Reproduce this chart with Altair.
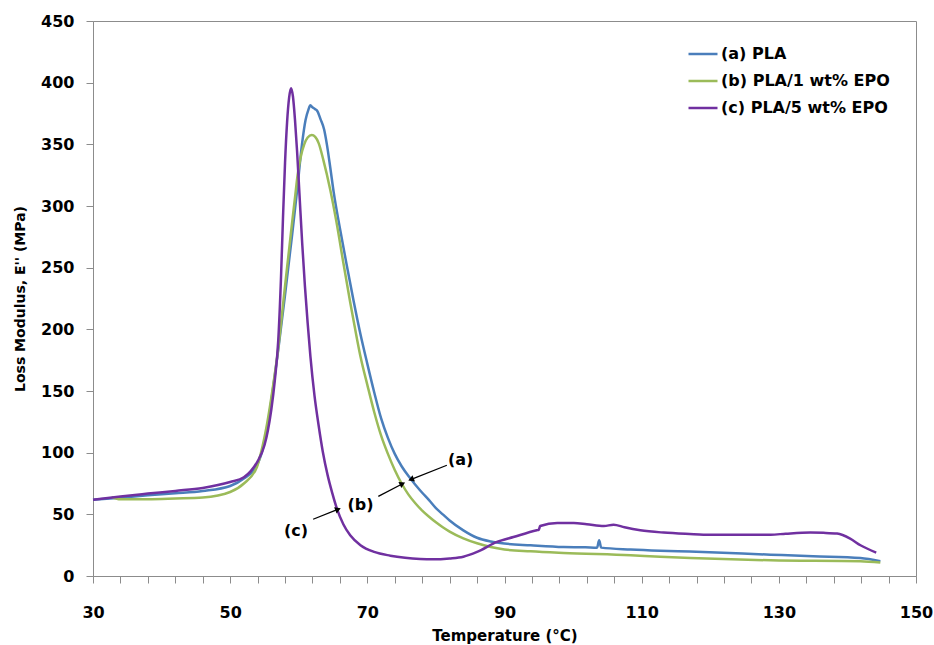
import altair as alt
import pandas as pd

# ---------------- data ----------------
series_names = ["(a) PLA", "(b) PLA/1 wt% EPO", "(c) PLA/5 wt% EPO"]
series_colors = ["#4A7EBB", "#9BBB59", "#7030A0"]

a_x = [30, 34, 38, 42, 46, 50, 52, 53.9, 54.5, 55.4, 56.2, 57.0, 58, 59, 59.75, 60.47, 61.0, 61.4, 61.7,
       62.0, 62.4, 62.7, 63.2, 63.7, 64.1, 64.6, 65.1, 66, 67, 68, 69, 70, 71, 72, 73, 74, 75, 76, 77,
       78, 79, 80, 81, 82, 84, 86, 88, 90, 93.8, 98.6, 101.8, 103.5, 103.8, 104.1, 108.4, 112.7, 117,
       128.8, 135, 141.9, 144.8]
a_y = [61.9, 63.5, 65.4, 67, 68.9, 73, 79, 89.8, 98, 120, 150, 183, 228, 275, 312, 350, 370, 378, 381.6,
       380, 378.5, 377, 370, 362, 350, 331, 311, 282, 252, 223, 196, 172, 149, 128, 112, 99, 89, 81, 74,
       67.5, 61.5, 55, 50, 45, 37, 31, 28, 26.3, 24.9, 23.5, 23.3, 23, 28.9, 23, 21.5, 20.5, 19.8,
       17.3, 16, 14.6, 11.9]

b_x = [32.7, 34, 38, 42, 46, 50, 52, 53.9, 54.5, 55.37, 56.2, 56.97, 58, 59, 59.5, 59.83, 60.3, 60.8,
       61.3, 61.9, 62.4, 62.9, 63.6, 64.6, 65.5, 66.5, 67.5, 68.5, 69, 70, 71, 72, 73, 74, 75, 76, 77,
       78, 79, 80, 81, 82, 84, 86, 88, 90, 93.8, 98.6, 108.4, 112.7, 117.1, 128.8, 141.9, 144.8]
b_y = [64, 62.2, 62.2, 62.8, 63.6, 68.1, 75, 88.4, 100, 123, 152, 183, 235, 285, 309, 325, 340, 350,
       355.5, 357.5, 356, 351, 337, 313, 287, 254, 222, 192, 178, 155, 133, 114, 99, 86, 75, 66, 59,
       53, 48, 43.5, 39.5, 36, 30.5, 26.5, 23.5, 21.5, 20.0, 18.7, 16.8, 15.6, 14.6, 12.7, 11.9, 10.9]

c_x = [30, 34, 38, 42, 46, 50, 52, 53, 54, 55, 55.5, 56, 56.5, 57.0, 57.4, 57.7, 58.0, 58.3, 58.6, 58.87,
       59.15, 59.45, 59.75, 60.1, 60.5, 60.9, 61.3, 61.7, 62.3, 62.9, 63.5, 64.2, 64.9, 65.6, 66.5,
       67.5, 69, 71, 73.35, 75.5, 77.7, 79.5, 82, 84, 86, 88.9, 91.3, 94.7, 95.0, 95.2, 97.7, 100.1,
       102, 104.5, 105.9, 107.5, 109.8, 113.2, 117, 119, 128.8, 131, 134.6, 136.5, 138.5, 140.4, 141.9,
       144.2]
c_y = [61.9, 64.5, 66.8, 69, 71.4, 76.2, 80, 85, 93, 106, 118, 135, 158, 190, 240, 290, 335, 368, 388, 395.5,
       389, 370, 345, 310, 270, 235, 205, 178, 146, 122, 101, 82, 67, 54, 42,
       33, 25, 19.5, 16.5, 14.8, 13.8, 13.5, 14.2, 15.6, 19.5, 27.6, 31.6, 37.1, 37.5, 40.5, 43, 43,
       42, 40.5, 41.6, 39.5, 37.1, 35.2, 34, 33.5, 33.5, 34.3, 35.2, 35, 34.4, 30.3, 24.9,
       19.0]

# annotations
ann_text = ["(a)", "(b)", "(c)"]
ann_tx = [83.6, 69.0, 59.6]
ann_ty = [93.8, 57.3, 36.2]
arrow_x1 = [81.6, 71.6, 62.1]
arrow_y1 = [89.8, 64.6, 46.0]
arrow_x2 = [76.5, 75.0, 65.6]
arrow_y2 = [78.5, 74.4, 53.8]
arrow_angle = [249, 64, 68]

x_ticks = list(range(30, 151, 4))
y_ticks = list(range(0, 451, 50))

# ---------------- tables ----------------
rows = []
for name, xs, ys in zip(series_names, [a_x, b_x, c_x], [a_y, b_y, c_y]):
    for i, (xv, yv) in enumerate(zip(xs, ys)):
        rows.append({"series": name, "T": xv, "E": yv, "i": i})
df = pd.DataFrame(rows)

ann = pd.DataFrame({"txt": ann_text, "tx": ann_tx, "ty": ann_ty,
                    "x1": arrow_x1, "y1": arrow_y1, "x2": arrow_x2, "y2": arrow_y2,
                    "ang": arrow_angle})

x_scale = alt.Scale(domain=[30, 150], nice=False, zero=False)
y_scale = alt.Scale(domain=[0, 450], nice=False)

FONT = "DejaVu Sans"

lines = alt.Chart(df).mark_line(strokeWidth=2.5, interpolate="monotone").encode(
    x=alt.X("T:Q", scale=x_scale,
            axis=alt.Axis(title="Temperature (°C)", values=x_ticks, tickCount=100,
                          labelExpr="datum.value % 20 == 10 ? datum.label : ''",
                          labelOverlap=False, labelFlush=False, labelPadding=21,
                          titlePadding=8, titleFontSize=15)),
    y=alt.Y("E:Q", scale=y_scale,
            axis=alt.Axis(title="Loss Modulus, E'' (MPa)", values=y_ticks, tickCount=100,
                          labelOverlap=False, labelFlush=False, labelPadding=12,
                          titlePadding=13)),
    color=alt.Color("series:N",
                    scale=alt.Scale(domain=series_names, range=series_colors),
                    legend=alt.Legend(title=None, orient="none", legendX=594, legendY=17,
                                      symbolType="stroke", symbolSize=841, symbolStrokeWidth=2.5,
                                      labelFont=FONT, labelFontWeight="bold", labelFontSize=16,
                                      labelColor="black", labelOffset=2, rowPadding=3,
                                      labelLimit=400, padding=0)),
    order="i:Q",
)

rules = alt.Chart(ann).mark_rule(color="black", strokeWidth=1.3).encode(
    x=alt.X("x1:Q", scale=x_scale), y=alt.Y("y1:Q", scale=y_scale),
    x2="x2:Q", y2="y2:Q",
)

heads = alt.Chart(ann).mark_point(shape="triangle", filled=True, size=45, color="black",
                                  opacity=1).encode(
    x=alt.X("x2:Q", scale=x_scale), y=alt.Y("y2:Q", scale=y_scale),
    angle=alt.Angle("ang:Q", scale=None),
)

texts = alt.Chart(ann).mark_text(font=FONT, fontWeight="bold", fontSize=16, color="black",
                                 align="center", baseline="middle").encode(
    x=alt.X("tx:Q", scale=x_scale), y=alt.Y("ty:Q", scale=y_scale), text="txt:N",
)

chart = alt.layer(lines, rules, heads, texts).properties(
    width=823, height=555,
    autosize=alt.AutoSizeParams(type="none"),
    padding={"left": 93, "top": 21, "right": 18, "bottom": 70},
).configure_view(
    stroke="#8c8c8c", strokeWidth=1,
).configure_axis(
    grid=False,
    domainColor="#8c8c8c", tickColor="#8c8c8c", tickSize=7, tickWidth=1,
    labelFont=FONT, labelFontWeight="bold", labelFontSize=16, labelColor="black",
    titleFont=FONT, titleFontWeight="bold", titleFontSize=14, titleColor="black",
)

chart.save("out.html", embed_options={"renderer": "svg", "actions": False})
